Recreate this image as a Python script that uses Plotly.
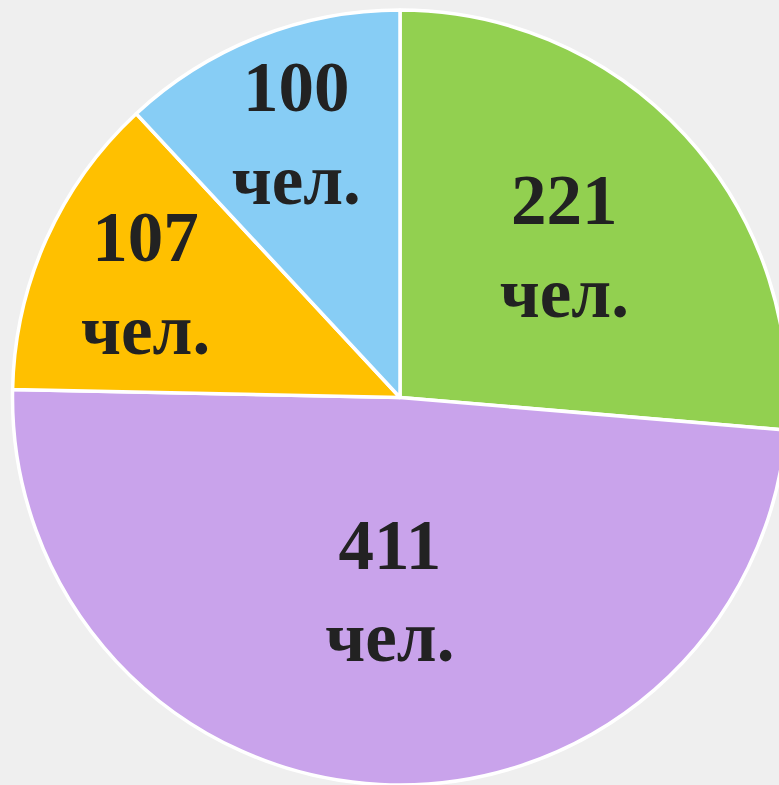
import plotly.graph_objects as go

values = [221, 411, 107, 100]
labels = ["221 чел.", "411 чел.", "107 чел.", "100 чел."]
text_labels = ["221<br>чел.", "411<br>чел.", "107<br>чел.", "100<br>чел."]
colors = ["#92D050", "#C9A3EB", "#FFC000", "#87CDF5"]

W, H = 790, 785

fig = go.Figure(go.Pie(
    values=values,
    labels=labels,
    text=text_labels,
    textinfo="text",
    textposition="inside",
    insidetextorientation="horizontal",
    sort=False,
    direction="clockwise",
    rotation=0,
    marker=dict(colors=colors, line=dict(color="white", width=3.5)),
    textfont=dict(family="Liberation Serif", size=71, color="#222222", weight="bold"),
    domain=dict(x=[12 / W, 788 / W], y=[0, 1 - 10 / H]),
    showlegend=False,
    hoverinfo="skip",
))

fig.update_layout(
    width=W, height=H,
    margin=dict(l=0, r=0, t=0, b=0),
    paper_bgcolor="#EFEFEF",
    plot_bgcolor="#EFEFEF",
    uniformtext=dict(minsize=71, mode="show"),
)

fig.write_html(
    "out.html",
    config={"displayModeBar": False},
    post_script="document.body.style.margin='0';document.body.style.background='#EFEFEF';document.body.style.overflow='hidden';document.documentElement.style.overflow='hidden';",
)
